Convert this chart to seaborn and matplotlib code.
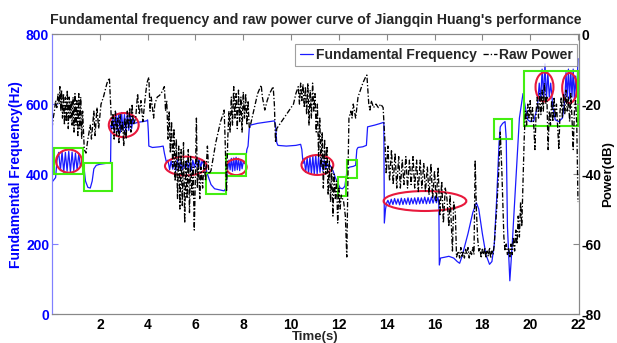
import numpy as np
import pandas as pd
import seaborn as sns
import matplotlib.pyplot as plt
from matplotlib.patches import Ellipse, Rectangle

# fundamental frequency (time s, Hz)
freq_points = [
    (0.0, 377), (0.15, 390), (0.21, 440), (0.28, 462), (0.35, 410), (0.42, 464), (0.49, 405),
    (0.56, 462), (0.63, 408), (0.70, 465), (0.77, 406), (0.84, 463), (0.91, 410), (0.98, 460),
    (1.05, 412), (1.12, 458), (1.19, 420), (1.26, 440), (1.32, 430), (1.40, 380), (1.50, 362),
    (1.60, 360), (1.68, 380), (1.75, 415), (1.85, 425), (2.0, 428), (2.2, 430), (2.4, 432),
    (2.45, 435), (2.47, 540), (2.50, 530), (2.55, 560), (2.61, 520), (2.67, 575), (2.73, 522),
    (2.79, 572), (2.85, 518), (2.91, 576), (2.97, 524), (3.03, 570), (3.09, 520), (3.15, 574),
    (3.21, 525), (3.27, 570), (3.33, 530), (3.39, 560), (3.45, 545), (3.6, 548), (3.8, 550),
    (3.95, 552), (4.0, 555), (4.03, 520), (4.05, 480), (4.2, 476), (4.5, 478), (4.65, 480),
    (4.70, 460), (4.78, 435), (4.85, 440), (4.92, 412), (4.98, 438), (5.05, 414), (5.11, 436),
    (5.18, 410), (5.24, 440), (5.31, 415), (5.37, 435), (5.44, 412), (5.50, 430), (5.57, 416),
    (5.63, 438), (5.70, 414), (5.76, 432), (5.83, 410), (5.89, 440), (5.96, 418), (6.02, 442),
    (6.09, 420), (6.15, 445), (6.22, 418), (6.28, 440), (6.35, 425), (6.42, 420), (6.5, 400),
    (6.65, 370), (6.8, 358), (7.0, 355), (7.2, 352), (7.28, 360), (7.32, 400), (7.38, 430),
    (7.40, 440), (7.45, 412), (7.50, 445), (7.55, 408), (7.60, 446), (7.65, 410), (7.70, 448),
    (7.75, 412), (7.80, 445), (7.85, 410), (7.90, 442), (7.95, 415), (8.0, 435), (8.05, 430),
    (8.1, 440), (8.15, 470), (8.2, 480), (8.25, 530), (8.3, 540), (8.6, 545), (8.9, 548),
    (9.1, 550), (9.3, 552), (9.35, 540), (9.4, 490), (9.45, 482), (9.8, 480), (10.2, 482),
    (10.4, 485), (10.45, 470), (10.5, 430), (10.55, 445), (10.61, 405), (10.67, 448),
    (10.73, 402), (10.79, 450), (10.85, 400), (10.91, 452), (10.97, 398), (11.03, 455),
    (11.09, 400), (11.15, 450), (11.21, 405), (11.27, 445), (11.33, 410), (11.39, 440),
    (11.45, 415), (11.51, 430), (11.57, 420), (11.63, 425), (11.75, 410), (11.85, 390),
    (11.95, 375), (12.05, 360), (12.15, 358), (12.25, 365), (12.3, 390), (12.35, 415),
    (12.45, 420), (12.6, 422), (12.7, 425), (12.75, 470), (12.8, 476), (13.0, 478),
    (13.15, 482), (13.2, 535), (13.5, 540), (13.7, 544), (13.88, 548), (13.9, 260),
    (13.95, 300), (14.0, 318), (14.05, 325), (14.12, 312), (14.19, 328), (14.26, 313),
    (14.33, 330), (14.40, 314), (14.47, 329), (14.54, 312), (14.61, 331), (14.68, 313),
    (14.75, 330), (14.82, 314), (14.89, 332), (14.96, 313), (15.03, 331), (15.10, 315),
    (15.17, 332), (15.24, 314), (15.31, 333), (15.38, 315), (15.45, 332), (15.52, 316),
    (15.59, 334), (15.66, 315), (15.73, 333), (15.80, 316), (15.87, 334), (15.94, 317),
    (16.01, 335), (16.08, 318), (16.14, 334), (16.18, 320), (16.2, 140), (16.25, 160),
    (16.4, 162), (16.6, 165), (16.8, 160), (16.95, 150), (17.05, 145), (17.15, 165),
    (17.4, 230), (17.6, 290), (17.75, 318), (17.85, 300), (18.0, 230), (18.15, 170),
    (18.3, 142), (18.4, 150), (18.5, 200), (18.6, 330), (18.7, 490), (18.75, 535),
    (18.85, 545), (18.95, 550), (19.0, 500), (19.05, 250), (19.15, 95), (19.25, 200),
    (19.4, 380), (19.55, 560), (19.7, 630), (19.8, 590), (19.9, 555), (20.0, 550),
    (20.15, 552), (20.3, 590), (20.38, 660), (20.44, 610), (20.5, 700), (20.56, 620),
    (20.62, 715), (20.68, 615), (20.74, 690), (20.8, 620), (20.86, 660), (20.95, 590),
    (21.05, 555), (21.2, 550), (21.35, 560), (21.45, 610), (21.5, 690), (21.55, 620),
    (21.6, 700), (21.65, 615), (21.7, 695), (21.75, 620), (21.8, 700), (21.85, 610),
    (21.9, 680), (21.95, 620), (22.0, 730),
]

# raw power (time s, dB)
power_points = [
    (0.0, -27), (0.05, -24), (0.1, -22), (0.15, -19), (0.2, -21), (0.25, -17), (0.3, -20),
    (0.33, -15), (0.37, -22), (0.4, -16), (0.44, -24), (0.48, -17), (0.52, -26), (0.56, -18),
    (0.6, -25), (0.64, -16), (0.68, -27), (0.72, -18), (0.76, -24), (0.8, -19), (0.84, -26),
    (0.88, -18), (0.92, -28), (0.96, -17), (1.0, -26), (1.04, -19), (1.08, -29), (1.12, -17),
    (1.16, -27), (1.2, -18), (1.24, -30), (1.28, -22), (1.35, -33), (1.42, -34), (1.5, -30),
    (1.6, -26), (1.65, -30), (1.75, -22), (1.8, -29), (1.88, -21), (1.95, -27), (2.05, -20),
    (2.15, -18), (2.3, -14), (2.4, -12.5), (2.45, -20), (2.5, -27), (2.55, -23), (2.6, -30),
    (2.65, -22), (2.7, -29), (2.75, -24), (2.8, -31), (2.85, -23), (2.9, -28), (2.95, -25),
    (3.0, -32), (3.05, -24), (3.1, -30), (3.15, -22), (3.2, -27), (3.25, -21), (3.3, -28),
    (3.35, -20), (3.4, -26), (3.5, -24), (3.58, -17), (3.65, -23), (3.72, -19), (3.8, -25),
    (3.9, -18), (3.97, -14), (4.05, -12.3), (4.1, -22), (4.15, -18), (4.25, -24), (4.3, -20),
    (4.4, -18), (4.5, -17.5), (4.6, -16.5), (4.7, -15), (4.75, -22), (4.8, -19), (4.85, -30),
    (4.9, -22), (4.95, -34), (5.0, -25), (5.05, -38), (5.1, -27), (5.15, -42), (5.2, -30),
    (5.25, -47), (5.3, -32), (5.35, -50), (5.4, -33), (5.45, -49), (5.5, -31), (5.55, -54),
    (5.6, -36), (5.65, -47), (5.7, -33), (5.75, -51), (5.8, -35), (5.85, -46), (5.9, -38),
    (5.95, -56), (6.0, -40), (6.04, -24), (6.08, -44), (6.13, -36), (6.18, -47), (6.23, -38),
    (6.3, -44), (6.36, -36), (6.42, -42), (6.5, -32), (6.56, -40), (6.65, -39), (6.75, -35),
    (6.85, -31), (6.95, -28), (7.05, -25), (7.15, -23), (7.2, -21.7), (7.24, -30), (7.3, -45),
    (7.35, -30), (7.4, -22), (7.45, -28), (7.5, -18), (7.55, -26), (7.6, -15), (7.65, -24),
    (7.7, -17), (7.75, -27), (7.8, -16), (7.85, -25), (7.9, -18), (7.95, -28), (8.0, -16.5),
    (8.05, -24), (8.1, -17), (8.15, -26), (8.2, -19), (8.25, -27), (8.3, -26), (8.5, -20),
    (8.6, -17), (8.75, -14.6), (8.8, -18), (8.9, -21.7), (9.0, -19), (9.1, -17), (9.25, -15),
    (9.3, -20), (9.35, -31), (9.4, -27), (9.5, -26), (9.7, -24), (9.9, -22), (10.1, -20),
    (10.2, -17), (10.3, -15), (10.35, -20), (10.4, -14), (10.45, -19), (10.5, -14.3),
    (10.55, -21), (10.6, -15), (10.65, -23), (10.7, -14), (10.75, -26), (10.8, -16),
    (10.85, -24), (10.9, -14), (10.95, -22), (11.0, -17), (11.05, -28), (11.1, -20),
    (11.15, -35), (11.2, -24), (11.25, -38), (11.3, -28), (11.35, -44), (11.4, -30),
    (11.45, -40), (11.5, -32), (11.55, -46), (11.6, -36), (11.65, -48), (11.7, -38),
    (11.75, -52), (11.8, -40), (11.85, -47), (11.9, -42), (11.95, -54), (12.0, -44),
    (12.05, -50), (12.1, -46), (12.2, -48), (12.27, -52), (12.33, -63.7), (12.38, -40),
    (12.42, -24), (12.5, -22), (12.55, -24), (12.6, -20), (12.7, -24), (12.8, -18),
    (12.9, -16), (13.0, -14), (13.1, -12.5), (13.17, -11.7), (13.25, -20), (13.3, -21.7),
    (13.35, -19), (13.45, -21), (13.55, -20), (13.65, -21), (13.75, -20), (13.85, -21),
    (13.92, -30), (13.98, -40), (14.05, -32), (14.12, -42), (14.2, -33), (14.27, -43),
    (14.35, -34), (14.42, -44), (14.5, -35), (14.57, -44), (14.65, -36), (14.72, -43),
    (14.8, -35), (14.87, -44), (14.95, -36), (15.02, -43), (15.1, -35), (15.17, -44),
    (15.25, -36), (15.32, -45), (15.4, -36), (15.47, -44), (15.55, -37), (15.62, -45),
    (15.7, -38), (15.77, -46), (15.85, -37), (15.92, -47), (16.0, -39), (16.07, -48),
    (16.15, -38), (16.22, -52), (16.3, -42), (16.37, -54), (16.45, -44), (16.52, -47),
    (16.6, -55), (16.65, -46), (16.75, -62), (16.8, -48), (16.87, -51), (16.92, -63.7),
    (17.0, -62), (17.05, -64), (17.1, -61), (17.15, -63.5), (17.2, -62), (17.25, -64),
    (17.3, -61.5), (17.35, -63), (17.4, -61), (17.45, -64), (17.5, -62), (17.55, -63),
    (17.6, -61), (17.65, -63), (17.7, -36), (17.75, -50), (17.8, -58), (17.85, -62),
    (17.9, -61), (17.95, -64), (18.0, -61.5), (18.05, -63), (18.1, -61), (18.15, -64),
    (18.2, -62), (18.25, -63.5), (18.3, -61), (18.35, -64), (18.4, -62), (18.45, -63),
    (18.5, -60), (18.6, -50), (18.68, -40), (18.75, -28), (18.82, -40), (18.9, -58),
    (18.95, -62), (19.0, -60), (19.05, -63), (19.1, -61), (19.15, -64), (19.2, -60),
    (19.25, -63), (19.3, -58), (19.35, -62), (19.4, -56), (19.45, -60), (19.5, -52),
    (19.55, -58), (19.6, -48), (19.65, -55), (19.7, -42), (19.75, -30), (19.8, -22),
    (19.85, -26), (19.9, -20), (19.95, -24), (20.0, -19), (20.05, -25), (20.1, -21),
    (20.15, -26), (20.2, -33), (20.25, -22), (20.3, -18), (20.35, -24), (20.4, -17),
    (20.45, -23), (20.5, -16), (20.55, -22), (20.6, -14), (20.65, -20), (20.7, -18),
    (20.75, -33), (20.8, -22), (20.85, -26), (20.9, -19), (20.95, -25), (21.0, -18),
    (21.05, -24), (21.1, -20), (21.2, -33), (21.25, -22), (21.3, -18), (21.35, -24),
    (21.4, -17), (21.45, -23), (21.5, -16), (21.55, -22), (21.6, -18), (21.65, -25),
    (21.7, -17), (21.75, -24), (21.8, -33), (21.85, -22), (21.9, -19), (21.95, -26),
    (22.0, -48),
]

# vibrato regions marked with red ellipses: (centre time, centre Hz, width s, height Hz)
vibrato_ellipses = [
    (0.71, 437, 1.08, 66), (3.0, 540, 1.25, 69), (5.6, 423, 1.75, 54), (7.71, 420, 0.86, 46),
    (11.1, 426, 1.33, 57), (15.6, 323, 3.46, 57), (20.6, 649, 0.75, 83), (21.65, 646, 0.62, 86),
]
# glide regions marked with green boxes: (start time, low Hz, width s, height Hz)
glide_boxes = [
    (0.08, 400, 1.21, 74), (1.33, 351, 1.17, 80), (6.46, 343, 0.83, 60), (7.29, 394, 0.84, 63),
    (11.96, 337, 0.33, 54), (12.33, 389, 0.42, 51), (18.49, 500, 0.73, 56), (19.75, 537, 2.25, 157),
]

freq_df = pd.DataFrame(freq_points, columns=["time", "freq"])
power_df = pd.DataFrame(power_points, columns=["time", "power"])

sns.set_style("white")
plt.rcParams["font.family"] = ["Liberation Sans", "DejaVu Sans"]
plt.rcParams["font.weight"] = "bold"
plt.rcParams["axes.unicode_minus"] = False

blue = "#1a1aff"
fig = plt.figure(figsize=(6.17, 3.43), dpi=100)
ax = fig.add_axes([0.0843, 0.0845, 0.854, 0.816])
ax2 = ax.twinx()

sns.lineplot(data=freq_df, x="time", y="freq", ax=ax, color=blue, lw=0.9,
             sort=False, estimator=None, label="Fundamental Frequency", legend=False)
sns.lineplot(data=power_df, x="time", y="power", ax=ax2, color="black", lw=0.95,
             sort=False, estimator=None, label="Raw Power", legend=False)
ax2.lines[0].set_linestyle((0, (4, 1.5, 1, 1.5)))

for cx, cy, w, h in vibrato_ellipses:
    ax.add_patch(Ellipse((cx, cy), w, h, fill=False, ec="#e8193c", lw=1.5, zorder=5))
for x0, y0, w, h in glide_boxes:
    ax.add_patch(Rectangle((x0, y0), w, h, fill=False, ec="#44ee11", lw=1.5, zorder=5))

ax.set_xlim(0, 22.04)
ax.set_ylim(0, 800)
ax2.set_ylim(-80, 0)
ax.set_xticks(range(2, 23, 2))
ax.set_yticks(range(0, 801, 200))
ax2.set_yticks(range(-80, 1, 20))

ax.tick_params(axis="x", direction="in", top=True, length=4, labelsize=10, pad=3, colors="#888888",
               labelcolor="black")
ax.tick_params(axis="y", direction="in", length=4, labelsize=10, pad=2, colors="#8080ff",
               labelcolor="#0000ff")
ax2.tick_params(axis="y", direction="in", length=4, labelsize=10, pad=2, colors="#888888",
                labelcolor="black")
for s in ["top", "bottom", "right"]:
    ax.spines[s].set_color("#888888")
    ax2.spines[s].set_color("#888888")
ax.spines["left"].set_color("#8080ff")
ax2.spines["left"].set_color("#8080ff")

ax.set_xlabel("Time(s)", fontsize=9.5, fontweight="bold", labelpad=-0.5)
ax.set_ylabel("Fundamental Frequency(Hz)", fontsize=10, fontweight="bold", color="#0000ff", labelpad=2)
ax2.set_ylabel("Power(dB)", fontsize=9.5, fontweight="bold", color="black", labelpad=0)
ax.set_title("Fundamental frequency and raw power curve of Jiangqin Huang's performance",
             fontsize=10.2, fontweight="bold", pad=7)

handles = ax.get_lines()[:1] + ax2.get_lines()[:1]
leg = ax2.legend(handles, ["Fundamental Frequency", "Raw Power"], ncol=2, loc="upper right",
                 bbox_to_anchor=(0.997, 0.965), borderaxespad=0, fancybox=False, handlelength=1.0,
                 handletextpad=0.2, columnspacing=0.4, borderpad=0.3, prop={"size": 10, "weight": "bold"})
leg.get_frame().set_edgecolor("#888888")
leg.get_frame().set_linewidth(0.8)

fig.savefig("out.png", dpi=100)
